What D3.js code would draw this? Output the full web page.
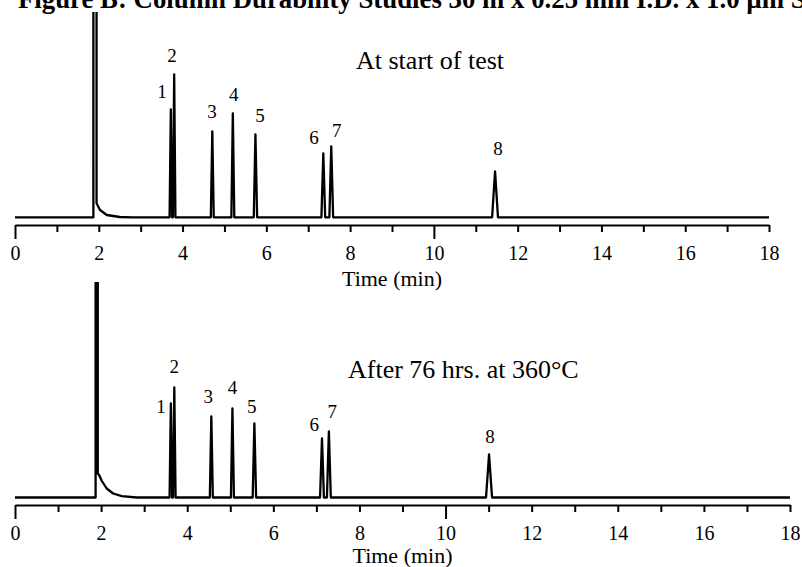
<!DOCTYPE html>
<html>
<head>
<meta charset="utf-8">
<script src="https://cdn.jsdelivr.net/npm/d3@7"></script>
<style>
  body { margin: 0; background: #fff; }
  svg { display: block; font-family: "Liberation Serif", "Times New Roman", serif; }
</style>
</head>
<body>
<div id="chart"></div>
<script>
// Time axis (minutes)
const timeDomain = [0, 18];
const minuteTicks = d3.range(0, 19);
const labelledTicks = [0, 2, 4, 6, 8, 10, 12, 14, 16, 18];

// Solvent front: [time, response] points
const startSolvent = [[1.86, 0], [1.871, 0], [1.91, 20000], [1.947, 14], [2.03, 7.3], [2.19, 2.3], [2.5, 0.3], [2.8, 0]];
const afterSolvent = [[1.86, 0], [1.872, 0], [1.897, 20000], [1.923, 24], [1.96, 22], [2.01, 17], [2.13, 9], [2.28, 4], [2.48, 1.3], [2.83, 0]];

// Peaks 1-8: retention time, height, half base width
const peakNames = ['1', '2', '3', '4', '5', '6', '7', '8'];
const startPeakTimes = [3.72, 3.80, 4.71, 5.20, 5.74, 7.36, 7.55, 11.46];
const startPeakHeights = [108, 143, 86, 104, 83, 64, 71, 46];
const startPeakWidths = [0.03, 0.03, 0.035, 0.035, 0.04, 0.045, 0.045, 0.07];
const afterPeakTimes = [3.62, 3.70, 4.56, 5.05, 5.56, 7.13, 7.29, 11.01];
const afterPeakHeights = [94, 110, 81, 89, 74, 59, 66, 43];
const afterPeakWidths = [0.03, 0.03, 0.035, 0.035, 0.04, 0.045, 0.045, 0.07];

// Peak number labels: [time, response] of each label
const startLabelTimes = [3.51, 3.75, 4.70, 5.22, 5.85, 7.14, 7.68, 11.53];
const startLabelHeights = [119, 155.5, 99, 116.3, 95.5, 73.3, 80.5, 62.3];
const afterLabelTimes = [3.39, 3.70, 4.49, 5.05, 5.50, 6.95, 7.37, 11.03];
const afterLabelHeights = [84.8, 124.2, 94.8, 103.2, 84.8, 66.8, 79.2, 54.8];

const width = 802, height = 567;

const svg = d3.select('#chart')
    .append('svg')
    .attr('width', width)
    .attr('height', height);

// Title (cut off at the top and right in the original figure)
const title = svg.append('text')
    .attr('x', 18)
    .attr('y', 8)
    .attr('font-weight', 'bold')
    .attr('font-size', 26)
    .text('Figure B: Column Durability Studies 30 m x 0.25 mm I.D. x 1.0 µm S');
const titleLen = title.node().getComputedTextLength();
title.attr('font-size', 26 * 788 / titleLen);

function buildTrace(solvent, times, heights, widths) {
    const pts = [[timeDomain[0], 0]];
    solvent.forEach(p => pts.push(p));
    times.forEach((t, i) => {
        pts.push([t - widths[i], 0]);
        pts.push([t, heights[i]]);
        pts.push([t + widths[i], 0]);
    });
    pts.push([timeDomain[1], 0]);
    return pts;
}

function drawPanel(cfg, idx) {
    const x = d3.scaleLinear().domain(timeDomain).range([cfg.left, cfg.right]);
    const y = d3.scaleLinear().domain([0, 200]).range([cfg.baseline, cfg.baseline - 200]);

    const g = svg.append('g');

    g.append('clipPath')
        .attr('id', 'clip' + idx)
        .append('rect')
        .attr('x', 0)
        .attr('y', cfg.clipTop)
        .attr('width', width)
        .attr('height', cfg.axisY - cfg.clipTop);

    const line = d3.line()
        .x(d => x(d[0]))
        .y(d => y(d[1]));

    g.append('path')
        .datum(buildTrace(cfg.solvent, cfg.times, cfg.heights, cfg.widths))
        .attr('clip-path', `url(#clip${idx})`)
        .attr('d', line)
        .attr('fill', 'none')
        .attr('stroke', '#000')
        .attr('stroke-width', 2.3)
        .attr('stroke-linejoin', 'round');

    // Peak numbers
    g.selectAll('.peak-label')
        .data(peakNames)
        .enter()
        .append('text')
        .attr('class', 'peak-label')
        .attr('x', (d, i) => x(cfg.labelTimes[i]))
        .attr('y', (d, i) => y(cfg.labelHeights[i]))
        .attr('text-anchor', 'middle')
        .attr('font-size', 19)
        .text(d => d);

    // Condition note
    g.append('text')
        .attr('x', cfg.noteX)
        .attr('y', cfg.noteY)
        .attr('font-size', 26)
        .text(cfg.note);

    // Time axis
    const axis = d3.axisBottom(x)
        .tickValues(minuteTicks)
        .tickSizeOuter(0)
        .tickFormat(d => labelledTicks.includes(d) ? d : '');

    const ax = g.append('g')
        .attr('transform', `translate(0,${cfg.axisY})`)
        .call(axis);

    ax.select('.domain').attr('stroke-width', 2).attr('stroke', '#000');
    ax.selectAll('.tick line')
        .attr('stroke-width', 2)
        .attr('stroke', '#000')
        .attr('y2', d => d % 10 === 0 ? 14 : 7);
    ax.selectAll('.tick text')
        .attr('y', 34.5)
        .attr('dy', null)
        .attr('fill', '#000')
        .attr('font-size', 20)
        .attr('font-family', '"Liberation Serif", "Times New Roman", serif');

    g.append('text')
        .attr('x', (cfg.left + cfg.right) / 2)
        .attr('y', Math.min(cfg.axisY + 61, height - 4))
        .attr('text-anchor', 'middle')
        .attr('font-size', 22)
        .text('Time (min)');
}

const panels = [
    {
        left: 15, right: 769, baseline: 217.3, axisY: 225, clipTop: 12,
        solvent: startSolvent, times: startPeakTimes, heights: startPeakHeights, widths: startPeakWidths,
        labelTimes: startLabelTimes, labelHeights: startLabelHeights,
        note: 'At start of test', noteX: 356, noteY: 69
    },
    {
        left: 15, right: 790, baseline: 497.5, axisY: 505, clipTop: 282,
        solvent: afterSolvent, times: afterPeakTimes, heights: afterPeakHeights, widths: afterPeakWidths,
        labelTimes: afterLabelTimes, labelHeights: afterLabelHeights,
        note: 'After 76 hrs. at 360°C', noteX: 348, noteY: 378
    }
];

panels.forEach(drawPanel);
</script>
</body>
</html>
